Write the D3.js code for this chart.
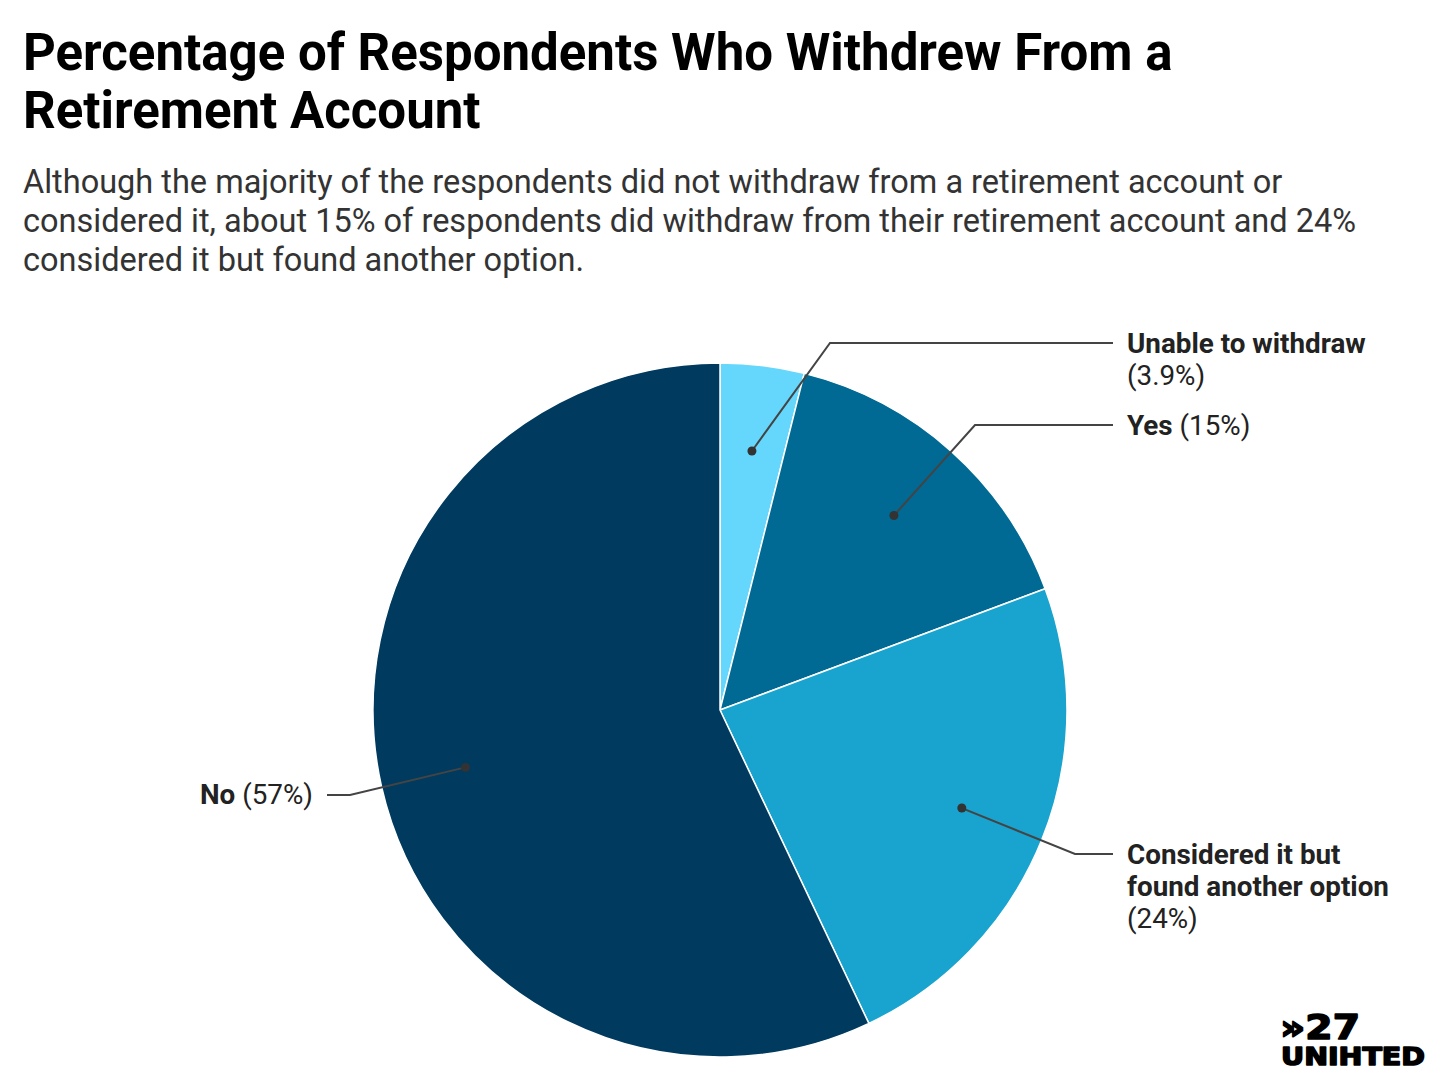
<!DOCTYPE html>
<html><head><meta charset="utf-8">
<script src="https://cdn.jsdelivr.net/npm/d3@7"></script>
<style>
html,body{margin:0;padding:0;background:#fff;}
svg{display:block;font-family:Roboto,"Noto Sans",sans-serif;}
</style></head>
<body><svg id="chart" width="1440" height="1085"></svg>
<script>
const categories = ["Unable to withdraw", "Yes", "Considered it but found another option", "No"];
const values = [3.9, 15.4, 23.6, 57];
const valueLabels = ["3.9%", "15%", "24%", "57%"];
const colors = ["#66d7fc", "#006a94", "#19a3cf", "#003b5f"];

const svg = d3.select("#chart");

// Title
const title = svg.append("text").attr("font-weight", 700).attr("font-size", 51).attr("fill", "#000");
title.append("tspan").attr("x", 23).attr("y", 70).text("Percentage of Respondents Who Withdrew From a");
title.append("tspan").attr("x", 23).attr("y", 128).text("Retirement Account");

const sub = svg.append("text").attr("font-size", 32.5).attr("fill", "#333");
["Although the majority of the respondents did not withdraw from a retirement account or",
 "considered it, about 15% of respondents did withdraw from their retirement account and 24%",
 "considered it but found another option."].forEach((t, i) => {
  sub.append("tspan").attr("x", 23).attr("y", 193 + i * 39).text(t);
});

// Pie
const cx = 720, cy = 710, R = 347;
const pie = d3.pie().sort(null).value(d => d);
const arcs = pie(values);
const arc = d3.arc().innerRadius(0).outerRadius(R);
const g = svg.append("g").attr("transform", `translate(${cx},${cy})`);
g.selectAll("path").data(arcs).join("path")
  .attr("d", arc).attr("fill", (d, i) => colors[i])
  .attr("stroke", "#fff").attr("stroke-width", 1.5).attr("stroke-linejoin", "round");

// Leader lines
const dotArc = d3.arc().innerRadius(R * 0.752).outerRadius(R * 0.752);
const elbows = [[830, 343], [975, 425], [1075, 854], [350, 795]];
const ends = [1113, 1113, 1113, 327];
arcs.forEach((a, i) => {
  const [dx, dy] = dotArc.centroid(a);
  const px = cx + dx, py = cy + dy;
  svg.append("path")
    .attr("d", d3.line()([[px, py], elbows[i], [ends[i], elbows[i][1]]]))
    .attr("fill", "none").attr("stroke", "#444").attr("stroke-width", 2);
  svg.append("circle").attr("cx", px).attr("cy", py).attr("r", 4.5).attr("fill", "#333");
});

const labFS = 27.8, lh = 32;
function label(x, y, lines, anchor) {
  const t = svg.append("text").attr("font-size", labFS).attr("fill", "#222").attr("text-anchor", anchor || "start");
  lines.forEach((ln, i) => {
    const ts = t.append("tspan").attr("x", x).attr("y", y + i * lh);
    ln.forEach(([txt, bold]) => ts.append("tspan").attr("font-weight", bold ? 700 : 400).text(txt));
  });
}
label(1127, 353, [[[categories[0], true]], [["(" + valueLabels[0] + ")", false]]]);
label(1127, 435, [[[categories[1], true], [" (" + valueLabels[1] + ")", false]]]);
label(1127, 864, [[["Considered it but", true]], [["found another option", true]], [["(" + valueLabels[2] + ")", false]]]);
label(313, 804, [[[categories[3], true], [" (" + valueLabels[3] + ")", false]]], "end");

// Logo (single text element, two lines)
const logo = svg.append("text").attr("font-family", "'DejaVu Sans', sans-serif").attr("font-weight", 700)
  .attr("fill", "#000").attr("stroke", "#000").attr("stroke-width", 1.6).attr("stroke-linejoin", "round");
logo.append("tspan").attr("x", 1280).attr("y", 1039).attr("font-size", 34)
  .attr("textLength", 80).attr("lengthAdjust", "spacingAndGlyphs").text("»27");
logo.append("tspan").attr("x", 1281).attr("y", 1065).attr("font-size", 25)
  .attr("textLength", 144).attr("lengthAdjust", "spacingAndGlyphs").text("UNIHTED");
</script></body></html>
